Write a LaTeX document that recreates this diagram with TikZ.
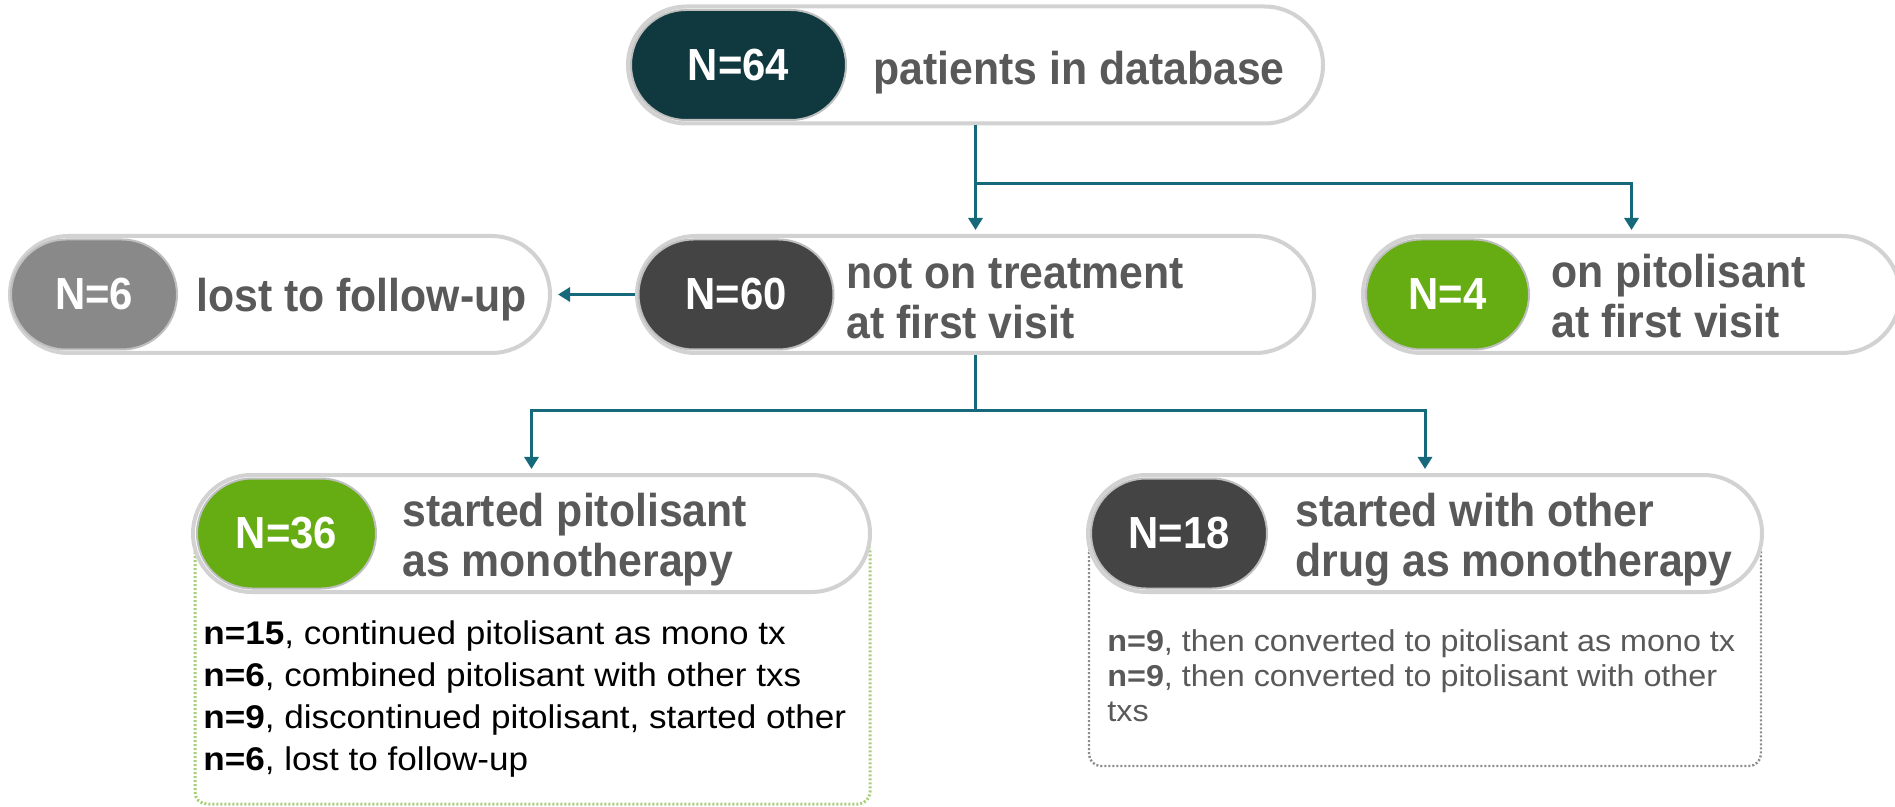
\documentclass[tikz,border=0pt]{standalone}
\usepackage{fontspec}
\setmainfont{Liberation Sans}
\newfontfamily\headfont{Liberation Sans}[FakeStretch=0.93]
\newfontfamily\itemfont{Liberation Sans}[FakeStretch=1.07]
\usetikzlibrary{positioning,shapes.misc,arrows.meta}

\definecolor{linkteal}{HTML}{16697A}
\definecolor{dbteal}{HTML}{10393F}
\definecolor{cntdark}{HTML}{444444}
\definecolor{cntgray}{HTML}{898989}
\definecolor{cntgreen}{HTML}{66AC13}
\definecolor{txtgray}{HTML}{595959}
\definecolor{rimgray}{HTML}{D2D2D2}
\definecolor{dotgreen}{HTML}{A6CF78}
\definecolor{dotgray}{HTML}{8C8C8C}

\begin{document}
\begin{tikzpicture}[x=0.5pt,y=-0.5pt,
  pill/.style={rounded rectangle, draw=rimgray, line width=2pt, fill=white,
    minimum height=58.5pt, inner sep=0pt},
  nbox/.style={rounded rectangle, draw=black!25, line width=1pt, minimum height=55pt,
    inner sep=0pt, text=white, font=\headfont\bfseries\fontsize{22.5}{27}\selectfont},
  desc/.style={anchor=west, inner sep=0pt, align=left, text=txtgray,
    font=\headfont\bfseries\fontsize{23}{25}\selectfont},
  items/.style={anchor=north west, inner sep=0pt, align=left,
    font=\itemfont\fontsize{16.4}{21}\selectfont},
  conn/.style={draw=linkteal, line width=1.5pt},
  arr/.style={-{Triangle[length=6pt,width=7pt]}, shorten >=2pt}
]
\useasboundingbox (0,0) rectangle (1895,807);
\clip (0,0) rectangle (1895,807);

% dotted boxes under the lower pills
\draw [dotgreen, line width=1.5pt, dash pattern=on 1pt off 1pt, rounded corners=6pt]
  (195,540) rectangle (870,804);
\draw [dotgray, line width=1.2pt, dash pattern=on 1pt off 1pt, rounded corners=6pt]
  (1089,540) rectangle (1761,766);

% top
\node [pill, minimum width=347.5pt] (db) at (975.5,65) {};
\node [nbox, fill=dbteal, minimum width=107.5pt] (db-n) at (738.5,65) {N=64};
\node [desc] (db-t) at (873,73) {patients in database};

% second row
\node [pill, minimum width=270pt] (lost) at (280,294.5) {};
\node [nbox, fill=cntgray, minimum width=83pt] (lost-n) at (94,294.5) {N=6};
\node [desc] (lost-t) at (196,300) {lost to follow-up};

\node [pill, minimum width=338.5pt] (mid) at (975.5,294.5) {};
\node [nbox, fill=cntdark, minimum width=97.5pt] (mid-n) at (736,294.5) {N=60};
\node [desc] (mid-t) at (846,298.5) {not on treatment\\at first visit};

\node [pill, minimum width=268.5pt] (ontx) at (1631.5,294.5) {};
\node [nbox, fill=cntgreen, minimum width=81.5pt] (ontx-n) at (1447.5,294.5) {N=4};
\node [desc] (ontx-t) at (1551,296) {on pitolisant\\at first visit};

% third row
\node [pill, minimum width=338.5pt] (mono) at (531.5,533.5) {};
\node [nbox, fill=cntgreen, minimum width=89.5pt] (mono-n) at (286.5,533.5) {N=36};
\node [desc] (mono-t) at (402,540) {started pitolisant\\as monotherapy};

\node [pill, minimum width=337pt] (other) at (1425,533.5) {};
\node [nbox, fill=cntdark, minimum width=88pt] (other-n) at (1179,533.5) {N=18};
\node [desc] (other-t) at (1295,540) {started with other\\drug as monotherapy};

% details
\node [items] (mono-l) at (203,620) {\textbf{n=15}, continued pitolisant as mono tx\\
  \textbf{n=6}, combined pitolisant with other txs\\
  \textbf{n=9}, discontinued pitolisant, started other\\
  \textbf{n=6}, lost to follow-up};
\node [items, text=txtgray, font=\itemfont\fontsize{15.1}{17.5}\selectfont] (other-l) at (1107,629)
  {\textbf{n=9}, then converted to pitolisant as mono tx\\
  \textbf{n=9}, then converted to pitolisant with other\\
  txs};

% connectors
\coordinate (split1) at (975.5,184);
\coordinate (split2) at (975.5,411);
\draw [conn, arr] (db.south) -- (mid.north);
\draw [conn, arr] (split1) -| (ontx.north);
\draw [conn, arr, shorten >=3pt] (mid.west) -- (lost.east);
\draw [conn] (mid.south) -- (split2);
\draw [conn, arr] (split2) -| (mono.north);
\draw [conn, arr] (split2) -| (other.north);
\end{tikzpicture}
\end{document}
